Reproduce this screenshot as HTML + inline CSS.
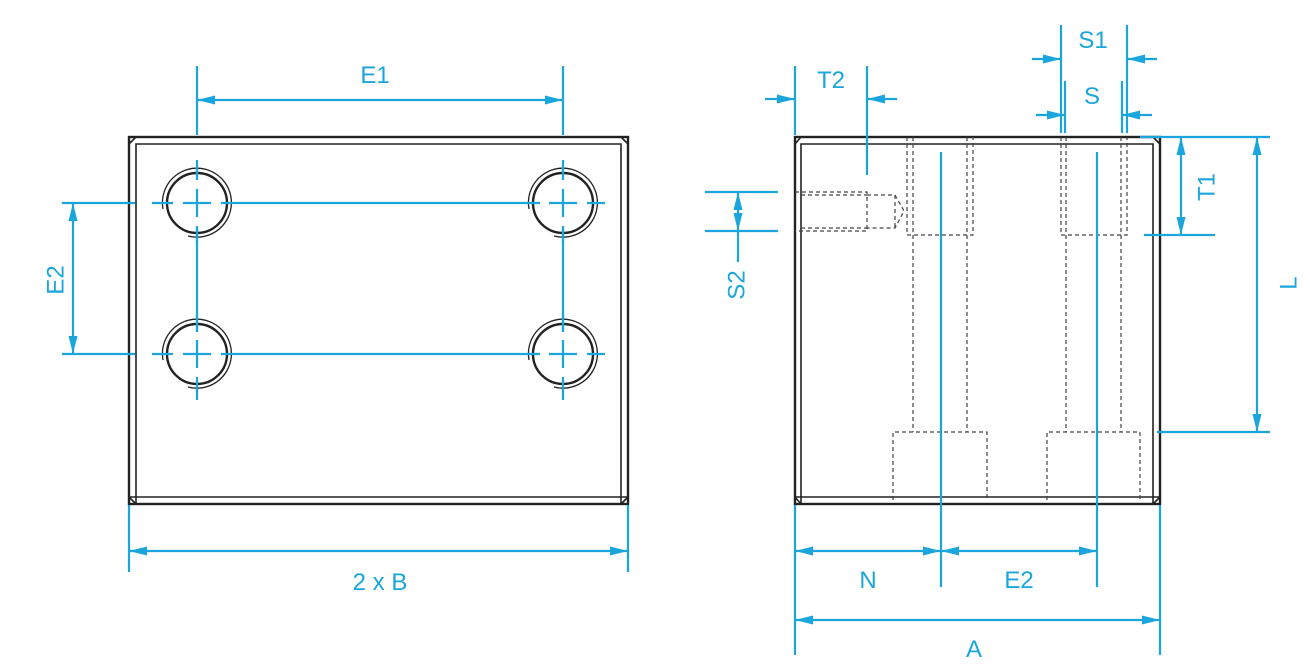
<!DOCTYPE html>
<html><head><style>body{margin:0;background:#fff}svg{display:block}</style></head><body>
<svg width="1310" height="671" viewBox="0 0 1310 671" xmlns="http://www.w3.org/2000/svg" font-family="Liberation Sans, sans-serif">
<defs>
<marker id="a" viewBox="0 0 18 9" refX="18" refY="4.5" markerWidth="18" markerHeight="9" markerUnits="userSpaceOnUse" orient="auto-start-reverse"><path d="M0,0 L18,4.5 L0,9 z" fill="#1aa6dc"/></marker>
</defs>
<g stroke="#222" stroke-width="2.4" fill="none">
<rect x="129" y="137" width="499" height="367"/>
<path d="M136 504V144H621V504M129 497H628M129 144l7-7M628 144l-7-7M129 497l7 7M628 497l-7 7" stroke-width="1.6"/>
<circle cx="197" cy="203" r="30"/><circle cx="563" cy="203" r="30"/><circle cx="197" cy="354" r="30"/><circle cx="563" cy="354" r="30"/>
<g stroke-width="1.3">
<path d="M163 209A34.5 34.5 0 1 1 188 236"/><path d="M529 209A34.5 34.5 0 1 1 554 236"/>
<path d="M163 360A34.5 34.5 0 1 1 188 387"/><path d="M529 360A34.5 34.5 0 1 1 554 387"/>
</g>
<rect x="795" y="137" width="365" height="367"/>
<path d="M801 504V144H1153V504M795 497H1160M795 144l6-7M1160 144l-7-7M795 497l6 7M1160 497l-7 7" stroke-width="1.6"/>
</g>
<g stroke="#444" stroke-width="1.2" fill="none" stroke-dasharray="4,3">
<path d="M907 137V235H973V137M913 137V432M967 137V432M893 500V432H987V500"/>
<path d="M1061 137V235H1127V137M1066 137V432M1121 137V432M1047 500V432H1140V500"/>
<path d="M795 192H867V231H795M801 195H867M801 228H867M867 195H895L904 211L895 228H867M895 195V228"/>
</g>
<g stroke="#1aa6dc" stroke-width="2.2" fill="none">
<path d="M197 66V135M563 66V135M197 160V180M563 160V180M197 226V245M563 226V245M197 315V332M563 315V332M197 377V400M563 377V400"/>
<path d="M152 203H173M518 203H540M152 354H173M518 354H540M221 203H540M587 203H605M221 354H540M587 354H605M197 227V331M563 227V331"/>
<path d="M183 203H211M197 189V217M549 203H577M563 189V217M183 354H211M197 340V368M549 354H577M563 340V368"/>
<path d="M197 100H563" marker-start="url(#a)" marker-end="url(#a)"/>
<path d="M62 203H135M62 354H135"/>
<path d="M73 203V354" marker-start="url(#a)" marker-end="url(#a)"/>
<path d="M129 505V572M628 505V572"/>
<path d="M129 551H628" marker-start="url(#a)" marker-end="url(#a)"/>
<path d="M795 66V135M867 66V175"/>
<path d="M765 99H795" marker-end="url(#a)"/><path d="M897 99H867" marker-end="url(#a)"/>
<path d="M1061 25V133M1127 25V133M1065 81V133M1122 81V133"/>
<path d="M1032 59H1061" marker-end="url(#a)"/><path d="M1157 59H1127" marker-end="url(#a)"/>
<path d="M1036 115H1065" marker-end="url(#a)"/><path d="M1152 115H1122" marker-end="url(#a)"/>
<path d="M1140 137H1270M1144 235H1215M1157 432H1270"/>
<path d="M1181 137V235" marker-start="url(#a)" marker-end="url(#a)"/>
<path d="M1257 137V432" marker-start="url(#a)" marker-end="url(#a)"/>
<path d="M705 192H778M705 231H778"/>
<path d="M738 192V231" marker-start="url(#a)" marker-end="url(#a)"/>
<path d="M738 231V262"/>
<path d="M941 152V587M1097 152V587"/>
<path d="M795 505V655M1160 505V655"/>
<path d="M795 551H941" marker-start="url(#a)" marker-end="url(#a)"/>
<path d="M941 551H1097" marker-start="url(#a)" marker-end="url(#a)"/>
<path d="M795 620H1160" marker-start="url(#a)" marker-end="url(#a)"/>
</g>
<g fill="#1aa6dc" font-size="24" text-anchor="middle">
<text x="375" y="83">E1</text>
<text x="380" y="590">2 x B</text>
<text x="57" y="280" transform="rotate(-90 57 280)" dominant-baseline="middle">E2</text>
<text x="831" y="88">T2</text>
<text x="1093" y="48">S1</text>
<text x="1092" y="104">S</text>
<text x="1208" y="187" transform="rotate(-90 1208 187)" dominant-baseline="middle">T1</text>
<text x="1290" y="283" transform="rotate(-90 1290 283)" dominant-baseline="middle">L</text>
<text x="738" y="285" transform="rotate(-90 738 285)" dominant-baseline="middle">S2</text>
<text x="868" y="588">N</text>
<text x="1019" y="588">E2</text>
<text x="974" y="657">A</text>
</g>
</svg>
</body></html>
